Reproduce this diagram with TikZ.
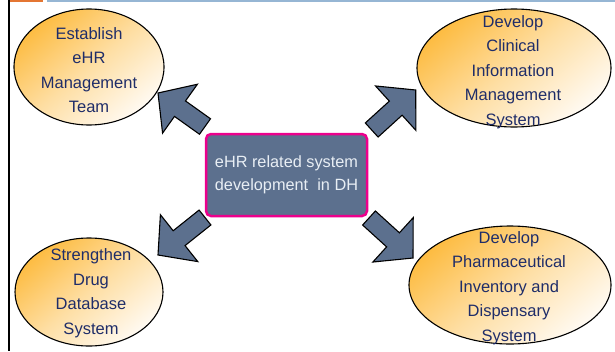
\documentclass[tikz,border=0pt]{standalone}
\usepackage{fontspec}
\setmainfont{Liberation Sans}
\usetikzlibrary{calc,shapes.geometric}
\definecolor{navytext}{RGB}{31,45,105}
\definecolor{boxtext}{RGB}{232,238,244}
\definecolor{slate}{RGB}{92,112,142}
\definecolor{orangeA}{RGB}{253,188,66}
\definecolor{creamB}{RGB}{255,250,242}
\definecolor{topOrange}{RGB}{228,118,50}
\definecolor{topBlue}{RGB}{150,182,212}
\begin{document}
\begin{tikzpicture}[x=1pt,y=-1pt,
  bubble/.style={ellipse, draw=black, line width=1.1pt, inner sep=0pt,
    top color=orangeA, bottom color=creamB, middle color=orangeA!45!creamB, shading angle=40},
  btext/.style={align=center, text=navytext, inner sep=0pt,
    font=\fontsize{16.5pt}{24.5pt}\selectfont},
  centerbox/.style={draw=magenta, line width=2.5pt, fill=slate, rounded corners=5pt,
    inner sep=0pt, align=center, text=boxtext,
    font=\fontsize{16.3pt}{23pt}\selectfont},
  arrowbody/.style={draw=black, line width=1.1pt, fill=slate, line join=miter},
  blockarrow/.style={to path={
    ($(\tikztotarget)!27pt!(\tikztostart)$) coordinate (bh)
    ($(\tikztostart)!9.5pt!90:(\tikztotarget)$)
    -- ($(bh)!9.5pt!90:(\tikztotarget)$)
    -- ($(bh)!30pt!90:(\tikztotarget)$)
    -- (\tikztotarget)
    -- ($(bh)!30pt!-90:(\tikztotarget)$)
    -- ($(bh)!9.5pt!-90:(\tikztotarget)$)
    -- ($(\tikztostart)!9.5pt!-90:(\tikztotarget)$)
    -- cycle}}
]
\useasboundingbox (0,0) rectangle (615,351);

% frame lines
\coordinate (fo1) at (9,1);
\coordinate (fo2) at (43,1);
\coordinate (fb1) at (47,1.2);
\coordinate (fb2) at (615,1.2);
\coordinate (fv1) at (9,0);
\coordinate (fv2) at (9,351);
\draw[topOrange, line width=2pt] (fo1) -- (fo2);
\draw[topBlue, line width=1.6pt] (fb1) -- (fb2);
\draw[black, line width=1.8pt] (fv1) -- (fv2);

% ellipses
\node[bubble, minimum width=150pt, minimum height=116pt] (e1) at (89,67) {};
\node[bubble, minimum width=194pt, minimum height=118pt] (e2) at (514,68) {};
\node[bubble, minimum width=148pt, minimum height=108pt] (e3) at (89,292) {};
\node[bubble, minimum width=202pt, minimum height=118pt] (e4) at (510,285) {};

\node[btext] (t1) at (89,70) {Establish\\eHR\\Management\\Team};
\node[btext] (t2) at (513,72) {Develop\\Clinical\\Information\\Management\\System};
\node[btext] (t3) at (91,293) {Strengthen\\Drug\\Database\\System};
\node[btext] (t4) at (509,288) {Develop\\Pharmaceutical\\Inventory and\\Dispensary\\System};

% center box
\node[centerbox, minimum width=161pt, minimum height=82pt] (c) at (286.5,175)
  {eHR related system\\development\ \ in DH};

% arrows
\coordinate (a1s) at (205,126.5);
\coordinate (a1t) at (158,93);
\coordinate (a2s) at (371.7,130);
\coordinate (a2t) at (415.7,90);
\coordinate (a3s) at (205,217.5);
\coordinate (a3t) at (158,255);
\coordinate (a4s) at (369,218);
\coordinate (a4t) at (413,258);
\draw[arrowbody] (a1s) to[blockarrow] (a1t);
\draw[arrowbody] (a2s) to[blockarrow] (a2t);
\draw[arrowbody] (a3s) to[blockarrow] (a3t);
\draw[arrowbody] (a4s) to[blockarrow] (a4t);
\end{tikzpicture}
\end{document}
